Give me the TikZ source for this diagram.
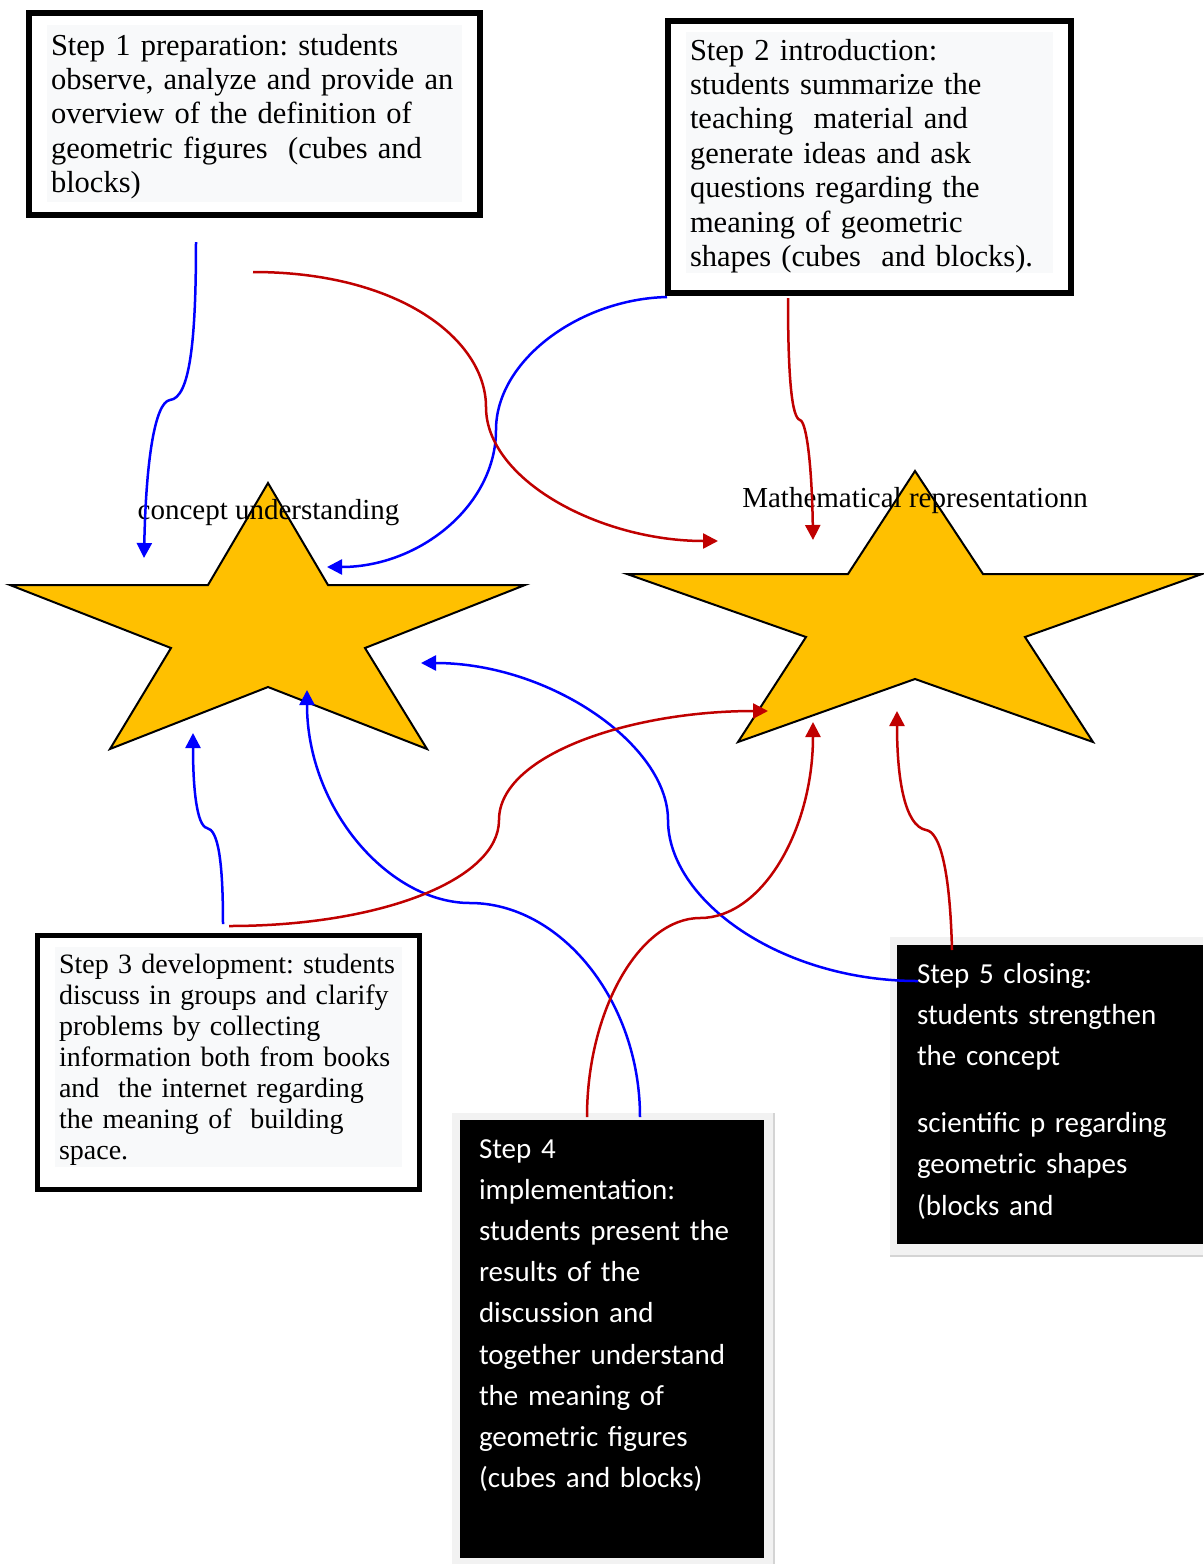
\documentclass[tikz,border=0pt]{standalone}
\usepackage{fontspec}
\setmainfont{Liberation Serif}
\newfontfamily\calibrifont{Carlito}
\usetikzlibrary{arrows.meta}
\definecolor{starfill}{HTML}{FFC000}
\definecolor{arrblue}{HTML}{0000FF}
\definecolor{arrred}{HTML}{C00000}
\definecolor{panelbg}{HTML}{F8F9FA}
\definecolor{framebg}{HTML}{F2F2F2}
\definecolor{frameedge}{HTML}{D4D4D4}
\begin{document}
\frenchspacing
\begin{tikzpicture}[x=1pt,y=-1pt,
  boxframe/.style={draw=black, line width=5.5pt, rectangle, inner sep=0pt, outer sep=0pt, anchor=north west},
  panel/.style={fill=panelbg, rectangle, inner sep=0pt, outer sep=0pt, anchor=north west},
  darkframe/.style={fill=framebg, rectangle, inner sep=0pt, outer sep=0pt, anchor=north west},
  darkbox/.style={fill=black, rectangle, inner sep=0pt, outer sep=0pt, anchor=north west},
  serifbig/.style={anchor=base west, inner sep=0pt, outer sep=0pt, align=left, font=\fontsize{30.5}{34.4}\selectfont\frenchspacing},
  serifmid/.style={anchor=base west, inner sep=0pt, outer sep=0pt, align=left, font=\fontsize{28}{31}\selectfont\frenchspacing},
  whitetext/.style={anchor=base west, inner sep=0pt, outer sep=0pt, align=left, text=white, font=\calibrifont\fontsize{29}{41.2}\selectfont\frenchspacing},
  starlabel/.style={anchor=base, inner sep=0pt, outer sep=0pt, font=\fontsize{29}{32}\selectfont},
  starshape/.style={fill=starfill, draw=black, line width=2pt, line join=miter},
  bluearrow/.style={draw=arrblue, line width=2.5pt, -{Triangle[length=15pt,width=15pt]}},
  redarrow/.style={draw=arrred, line width=2.5pt, -{Triangle[length=15pt,width=15pt]}}
]
\useasboundingbox (0,0) rectangle (1203,1564);
\fill[white] (0,0) rectangle (1203,1564);

% ---------- Stars ----------
\draw[starshape] (268,483) -- (328,585) -- (525,585) -- (365,648) -- (427,749) -- (268,687)
  -- (110,749) -- (171,648) -- (10,585) -- (208,585) -- cycle;
\draw[starshape] (915,471) -- (983,574) -- (1202,574) -- (1025,637) -- (1093,742) -- (915,679)
  -- (738,742) -- (806,637) -- (627,574) -- (848,574) -- cycle;
\node[starlabel] (lab1) at (268.5,519) {concept understanding};
\node[starlabel] (lab2) at (915,507) {Mathematical representationn};

% ---------- Step 1 ----------
\node[panel, minimum width=415pt, minimum height=177pt] (p1) at (47,25) {};
\node[boxframe, minimum width=451pt, minimum height=202pt] (b1) at (29,13) {};
\node[serifbig, text width=440pt] (t1) at (51,55) {Step 1 preparation: students\\
observe, analyze and provide an\\ overview of the definition of\\
geometric figures~ (cubes and\\ blocks)};

% ---------- Step 2 ----------
\node[panel, minimum width=367pt, minimum height=241pt] (p2) at (686,32) {};
\node[boxframe, minimum width=403pt, minimum height=272pt] (b2) at (668,21) {};
\node[serifbig, text width=400pt] (t2) at (690,60) {Step 2 introduction:\\
students summarize the\\ teaching~ material and\\ generate ideas and ask\\
questions regarding the\\ meaning of geometric\\ shapes (cubes~ and blocks).};

% ---------- Step 3 ----------
\node[panel, minimum width=347pt, minimum height=220pt] (p3) at (55,947) {};
\node[boxframe, minimum width=382pt, minimum height=254pt] (b3) at (37.5,935.5) {};
\node[serifmid, text width=380pt] (t3) at (59,973) {Step 3 development: students\\
discuss in groups and clarify\\ problems by collecting\\ information both from books\\
and~ the internet regarding\\ the meaning of~ building\\ space.};

% ---------- Step 4 ----------
\node[darkframe, minimum width=322pt, minimum height=451pt] (f4) at (452,1113) {};
\draw[frameedge, line width=2pt] (f4.north east) -- (f4.south east);
\node[darkbox, minimum width=304pt, minimum height=438pt] (b4) at (460,1120) {};
\node[whitetext, text width=300pt] (t4) at (479,1158) {Step 4\\ implementation:\\
students present the\\ results of the\\ discussion and\\ together understand\\
the meaning of\\ geometric figures\\ (cubes and blocks)};

% ---------- Step 5 ----------
\node[darkframe, minimum width=313pt, minimum height=319pt] (f5) at (890,937) {};
\draw[frameedge, line width=2pt] (f5.south west) -- (f5.south east);
\node[darkbox, minimum width=306pt, minimum height=299pt] (b5) at (897,945) {};
\node[whitetext, text width=300pt] (t5) at (917,983) {Step 5 closing:\\ students strengthen\\
the concept\\[26pt] scientific p regarding\\ geometric shapes\\ (blocks and};

% ---------- Connector end points ----------
\coordinate (a1s) at (196,242);  \coordinate (a1k) at (170,400);  \coordinate (a1e) at (144,558);
\coordinate (a2s) at (667,297);  \coordinate (a2m) at (496,430);  \coordinate (a2e) at (327,567);
\coordinate (a3s) at (918,981);  \coordinate (a3m) at (668,820);  \coordinate (a3e) at (421,663);
\coordinate (a4s) at (640,1117); \coordinate (a4m) at (470,903);  \coordinate (a4e) at (307,690);
\coordinate (a5s) at (223,924);  \coordinate (a5k) at (207,828);  \coordinate (a5e) at (193,733);
\coordinate (r1s) at (253,272);  \coordinate (r1m) at (486,407);  \coordinate (r1e) at (718,541);
\coordinate (r2s) at (788,298);  \coordinate (r2k) at (800,420);  \coordinate (r2e) at (813,540);
\coordinate (r3s) at (229,926);  \coordinate (r3m) at (499,820);  \coordinate (r3e) at (768,711);
\coordinate (r4s) at (587,1117); \coordinate (r4m) at (700,918);  \coordinate (r4e) at (813,722);
\coordinate (r5s) at (952,950);  \coordinate (r5k) at (926,830);  \coordinate (r5e) at (897,711);

% ---------- Blue connectors ----------
\draw[bluearrow] (a1s) .. controls (196,340) and (190,398) .. (a1k)
                       .. controls (155,402) and (146,460) .. (a1e);
\draw[bluearrow] (a2s) .. controls (580,299) and (496,360) .. (a2m)
                       .. controls (496,505) and (420,567) .. (a2e);
\draw[bluearrow] (a3s) .. controls (780,981) and (668,900) .. (a3m)
                       .. controls (668,745) and (550,663) .. (a3e);
\draw[bluearrow] (a4s) .. controls (640,1000) and (560,903) .. (a4m)
                       .. controls (390,903) and (307,810) .. (a4e);
\draw[bluearrow] (a5s) .. controls (223,860) and (218,830) .. (a5k)
                       .. controls (197,826) and (193,790) .. (a5e);

% ---------- Red connectors ----------
\draw[redarrow] (r1s) .. controls (400,272) and (486,340) .. (r1m)
                      .. controls (486,480) and (600,541) .. (r1e);
\draw[redarrow] (r2s) .. controls (788,380) and (792,418) .. (r2k)
                      .. controls (807,422) and (812,470) .. (r2e);
\draw[redarrow] (r3s) .. controls (380,926) and (499,880) .. (r3m)
                      .. controls (499,755) and (630,711) .. (r3e);
\draw[redarrow] (r4s) .. controls (587,1010) and (640,918) .. (r4m)
                      .. controls (762,918) and (813,830) .. (r4e);
\draw[redarrow] (r5s) .. controls (950,870) and (940,832) .. (r5k)
                      .. controls (905,826) and (897,780) .. (r5e);
\end{tikzpicture}
\end{document}
